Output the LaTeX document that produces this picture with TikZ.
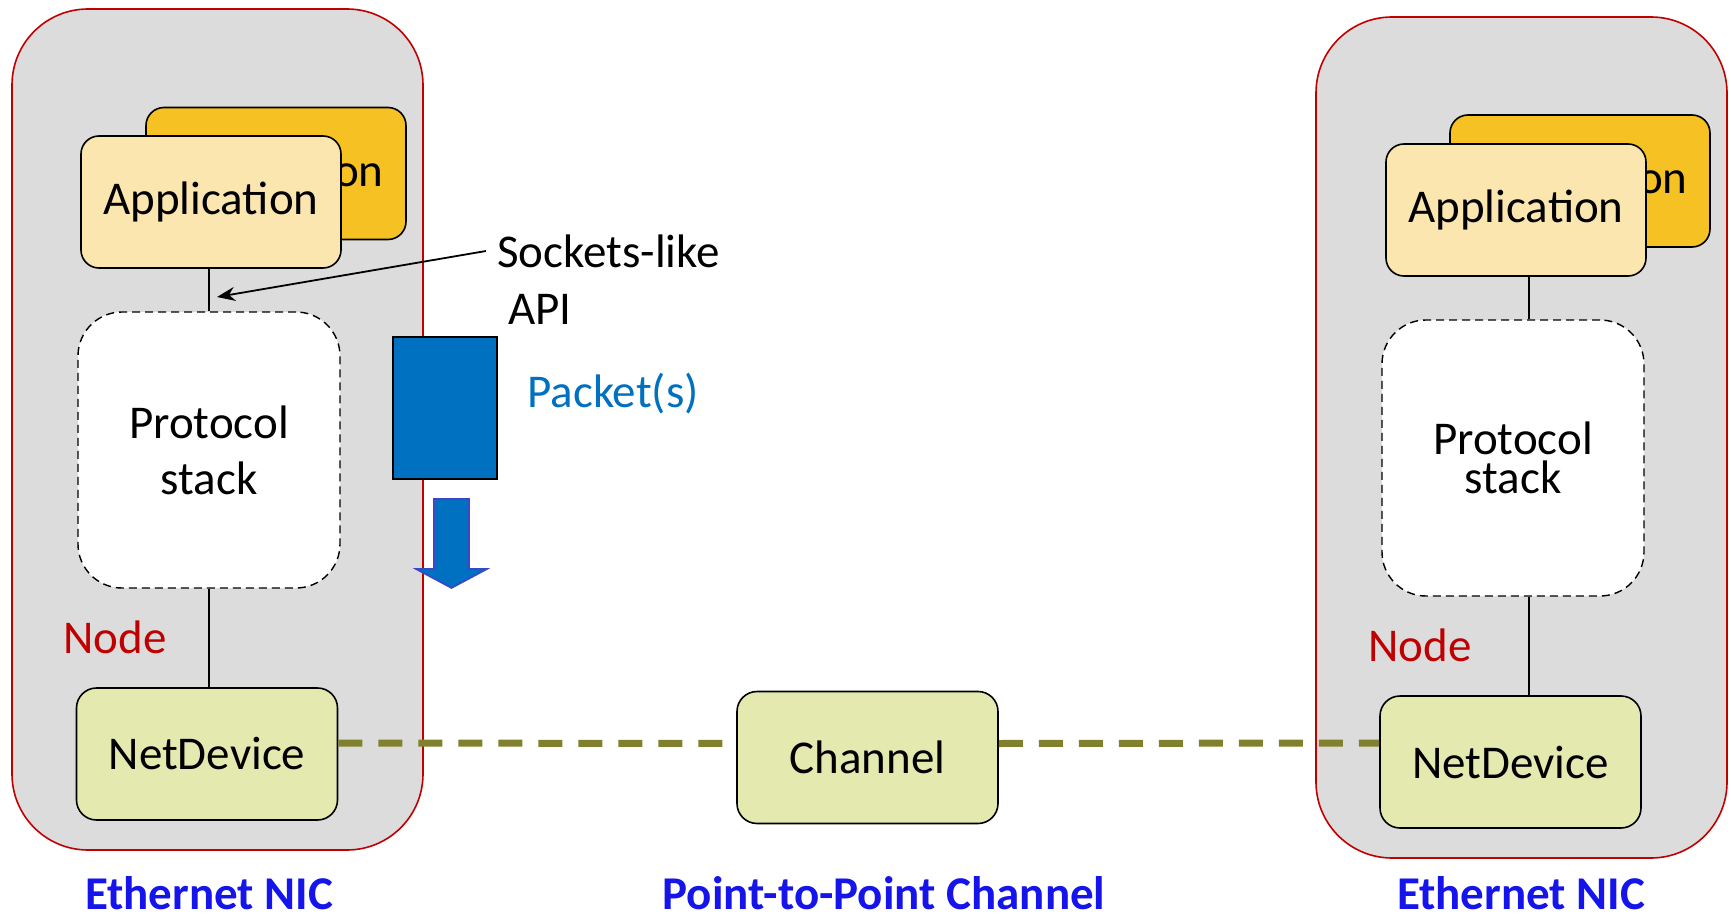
\documentclass[tikz,border=0pt]{standalone}
\usepackage{fontspec}
\setmainfont{Carlito}
\usetikzlibrary{arrows.meta}
\definecolor{nodegray}{RGB}{220,220,220}
\definecolor{nodered}{RGB}{192,0,0}
\definecolor{appfront}{RGB}{251,230,176}
\definecolor{appback}{RGB}{246,193,35}
\definecolor{devfill}{RGB}{228,233,176}
\definecolor{olive}{RGB}{128,128,45}
\definecolor{pktblue}{RGB}{0,112,192}
\definecolor{arrowedge}{RGB}{60,70,200}
\definecolor{labelblue}{RGB}{20,20,235}
\begin{document}
\begin{tikzpicture}[x=0.5pt,y=-0.5pt,
  every node/.style={font=\fontsize{23.5}{28}\selectfont, inner sep=0pt},
  nodebox/.style={draw=nodered, fill=nodegray, line width=0.8pt, rounded corners=38pt, minimum width=205.5pt, minimum height=420.5pt},
  appfrontbox/.style={draw=black, fill=appfront, line width=0.8pt, rounded corners=9pt, minimum width=130pt, minimum height=66pt},
  appbackbox/.style={draw=black, fill=appback, line width=0.8pt, rounded corners=9pt, minimum width=130pt, minimum height=66pt},
  stackbox/.style={draw=black, fill=white, dash pattern=on 4pt off 2.5pt, line width=0.7pt, rounded corners=22pt, minimum width=131pt, minimum height=138pt, align=center},
  devbox/.style={draw=black, fill=devfill, line width=0.8pt, rounded corners=10pt, minimum width=130.5pt, minimum height=66pt},
  link/.style={draw=black, line width=0.6pt},
  wire/.style={draw=olive, line width=3.5pt, dash pattern=on 12pt off 8pt},
  nodelabel/.style={text=nodered},
  bottomlabel/.style={text=labelblue, font=\fontsize{23.5}{28}\selectfont\bfseries}
]
\useasboundingbox (0,0) rectangle (1731,920);

% outer node boxes
\node[nodebox] (outerL) at (217.5,429.5) {};
\node[nodebox] (outerR) at (1521.5,437.5) {};

% left node
\node[appbackbox] (appbackL) at (276,173.5) {Application};
\node[appfrontbox] (appL) at (211,202) {Application};
\node[stackbox] (stackL) at (209,450) {Protocol\\stack};
\node[devbox] (ndL) at (207,754) {NetDevice};
\draw[link] (stackL.north) -- (stackL.north |- appL.south);
\draw[link] (stackL.south) -- (stackL.south |- ndL.north);
\node[nodelabel] (nodeL) at (115,637) {Node};

% right node
\node[appbackbox] (appbackR) at (1580,181) {Application};
\node[appfrontbox] (appR) at (1516,210) {Application};
\node[stackbox, font=\fontsize{23.5}{19.5}\selectfont] (stackR) at (1513,458) {Protocol\\stack};
\node[devbox] (ndR) at (1510.5,762) {NetDevice};
\draw[link] ([xshift=8pt]stackR.north) -- ([xshift=8pt]stackR.north |- appR.south);
\draw[link] ([xshift=8pt]stackR.south) -- ([xshift=8pt]stackR.south |- ndR.north);
\node[nodelabel] (nodeR) at (1420,645) {Node};

% channel
\node[devbox] (chan) at (867.5,757.5) {Channel};
\draw[wire] ([yshift=5.5pt]ndL.east) -- ([yshift=7pt]chan.west);
\draw[wire] ([yshift=7pt]chan.east) -- ([yshift=9.5pt]ndR.west);

% sockets-like API
\node[anchor=west] (sock) at (497,251) {Sockets-like};
\node[anchor=west] (api) at (508,309) {API};
\coordinate (apiTip) at (217,297);
\draw[link, line width=0.9pt, -{Stealth[length=9pt,width=7pt]}] ([xshift=-5.5pt]sock.west) -- (apiTip);

% packet
\node[draw=black, fill=pktblue, line width=0.8pt, minimum width=52pt, minimum height=71pt] (pkt) at (445,408) {};
\node[text=pktblue] (pktlabel) at (613,394) {Packet(s)};
\draw[draw=arrowedge, fill=pktblue, line width=0.8pt]
  (434,499) -- (469,499) -- (469,569) -- (487,569) -- (451.5,588) -- (416,569) -- (434,569) -- cycle;

% bottom labels
\node[bottomlabel] (labL) at (209,893) {Ethernet NIC};
\node[bottomlabel] (labC) at (884,893) {Point-to-Point Channel};
\node[bottomlabel] (labR) at (1521,893) {Ethernet NIC};
\end{tikzpicture}
\end{document}
